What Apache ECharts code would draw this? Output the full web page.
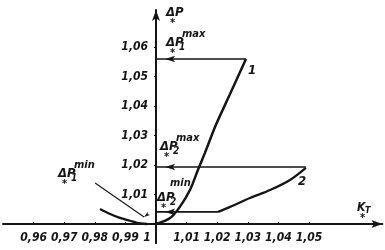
<!DOCTYPE html>
<html>
<head>
<meta charset="utf-8">
<script src="https://cdn.jsdelivr.net/npm/echarts@6/dist/echarts.min.js"></script>
<style>
html,body{margin:0;padding:0;background:#fff;}
#c{width:385px;height:250px;}
</style>
</head>
<body>
<div id="c"></div>
<script>
// ---- data ----
var xTicks = [0.96, 0.97, 0.98, 0.99, 1, 1.01, 1.02, 1.03, 1.04, 1.05];
var yTicks = [1.01, 1.02, 1.03, 1.04, 1.05, 1.06];
// curve 1 (K, dP)
var curve1K = [1.0, 1.0046, 1.0078, 1.0111, 1.0137, 1.0160, 1.0196, 1.0245, 1.0294];
var curve1P = [1.0, 1.0020, 1.0058, 1.0115, 1.0183, 1.0241, 1.0336, 1.0447, 1.0559];
// curve 2
var curve2K = [1.0203, 1.0242, 1.0307, 1.0373, 1.0438, 1.0490];
var curve2P = [1.0041, 1.0058, 1.0088, 1.0115, 1.0149, 1.0190];
// branch for K < 1
var leftK = [0.9817, 0.9850, 0.9882, 0.9915, 0.9938, 0.9971];
var leftP = [1.0051, 1.0034, 1.0021, 1.0011, 1.0004, 1.0000];
// limit levels
var p1max = 1.0559, p1maxK = 1.0294;
var p2max = 1.0193, p2maxK = 1.0490;
var p2min = 1.0041, p2minK = 1.0203;
// leader for dP1 min
var leaderK = [0.9801, 0.9961];
var leaderP = [1.0139, 1.0024];

function zip(a, b) { return a.map(function (v, i) { return [v, b[i]]; }); }
function fmtNum(v) { return v.toFixed(2).replace('.', ','); }
function fmtX(v) { return Math.abs(v - 1) < 1e-9 ? '{one|1}' : fmtNum(v); }

var INK = '#151515';
var FONT = "'Liberation Sans Narrow','DejaVu Sans Condensed','Liberation Sans',sans-serif";

function arrowLine(level, kEnd) {
  return {
    type: 'line', symbol: 'none', silent: true,
    lineStyle: { color: INK, width: 1.6 },
    data: [
      { value: [kEnd, level] },
      { value: [1.003, level], symbol: 'arrow', symbolSize: [5, 10], symbolRotate: 90, itemStyle: { color: INK } },
      { value: [1.0, level] }
    ]
  };
}

function txt(x, y, s, size) {
  return { type: 'text', x: x, y: y, silent: true,
    style: { text: s, fill: INK, font: 'italic bold ' + size + 'px ' + FONT, textVerticalAlign: 'middle', textAlign: 'left' } };
}

function deltaLabel(x, y, sub, sup) {
  var arr = [txt(x, y, 'ΔP', 13)];
  if (sub) arr.push(txt(x + 13, y + 4, sub, 10));
  if (sup) arr.push(txt(x + 16, y - 9, sup, 11));
  arr.push(txt(x + 4, y + 10, '*', 11));
  return arr;
}

var graphics = [];
graphics = graphics.concat(deltaLabel(166, 13, null, null));
graphics = graphics.concat(deltaLabel(166, 43, '1', 'max'));
graphics = graphics.concat(deltaLabel(160, 147, '2', 'max'));
graphics = graphics.concat(deltaLabel(157, 198, '2', null));
graphics.push(txt(170, 183, 'min', 11));
graphics = graphics.concat(deltaLabel(58, 174, '1', 'min'));
graphics.push(txt(248, 71, '1', 13));
graphics.push(txt(298, 182, '2', 13));
graphics.push(txt(357, 208, 'K', 12));
graphics.push(txt(365, 211, 'T', 9));
graphics.push(txt(360, 218, '*', 11));

var labelFont = { color: INK, fontSize: 12, fontStyle: 'italic', fontWeight: 'bold', fontFamily: FONT };

var chart = echarts.init(document.getElementById('c'), null, { renderer: 'canvas' });
chart.setOption({
  animation: false,
  backgroundColor: '#fff',
  grid: { left: 3, right: 2.6, top: 10, bottom: 6.8, containLabel: false },
  xAxis: {
    type: 'value', min: 0.95, max: 1.074, offset: -19.2,
    axisLine: { onZero: false, lineStyle: { color: INK, width: 2 }, symbol: ['none', 'arrow'], symbolSize: [6, 11] },
    axisTick: { show: true, inside: true, length: 2, customValues: xTicks, lineStyle: { color: INK } },
    splitLine: { show: false },
    axisLabel: Object.assign({ customValues: xTicks, formatter: fmtX, margin: 8,
      rich: { one: Object.assign({ padding: [0, 18, 0, 0] }, labelFont) } }, labelFont)
  },
  yAxis: {
    type: 'value', min: 0.9935, max: 1.0725, offset: -153,
    axisLine: { onZero: false, lineStyle: { color: INK, width: 2 }, symbol: ['none', 'arrow'], symbolSize: [6, 11] },
    axisTick: { show: true, length: 2, customValues: yTicks, lineStyle: { color: INK } },
    splitLine: { show: false },
    axisLabel: Object.assign({ customValues: yTicks, formatter: fmtNum, margin: 8, padding: [3, 0, 0, 0] }, labelFont)
  },
  series: [
    { type: 'line', symbol: 'none', smooth: 0.3, silent: true, lineStyle: { color: INK, width: 2.5 }, data: zip(curve1K, curve1P) },
    { type: 'line', symbol: 'none', smooth: 0.3, silent: true, lineStyle: { color: INK, width: 2.3 }, data: zip(curve2K, curve2P) },
    { type: 'line', symbol: 'none', smooth: 0.3, silent: true, lineStyle: { color: INK, width: 2.3 }, data: zip(leftK, leftP) },
    { type: 'line', symbol: 'none', silent: true, lineStyle: { color: INK, width: 1.1 },
      data: [ { value: [leaderK[0], leaderP[0]] },
              { value: [leaderK[1], leaderP[1]], symbol: 'arrow', symbolSize: [3, 6], symbolRotate: 125, itemStyle: { color: INK } } ] },
    arrowLine(p1max, p1maxK),
    arrowLine(p2max, p2maxK),
    arrowLine(p2min, p2minK)
  ],
  graphic: graphics
});
</script>
</body>
</html>
